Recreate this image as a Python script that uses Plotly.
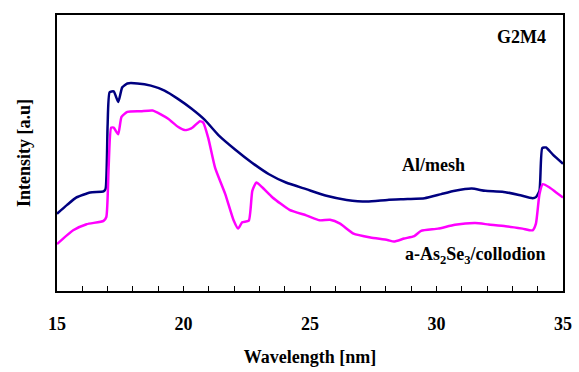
import plotly.graph_objects as go

# Al/mesh (navy)
al_x = [15.0, 15.4, 15.77, 16.31, 16.84, 16.92, 17.0, 17.08, 17.24, 17.42, 17.58, 17.78, 18.18, 18.71, 19.25,
        19.78, 20.31, 20.85, 21.38, 22.05, 22.72, 23.38, 24.05, 24.85, 25.65, 26.45, 27.26, 28.06,
        28.86, 29.53, 30.19, 30.73, 31.39, 31.93, 32.6, 33.26, 33.8, 33.93, 34.07, 34.18, 34.33,
        34.6, 35.0]
al_y = [0.280, 0.312, 0.339, 0.357, 0.361, 0.370, 0.600, 0.720, 0.723, 0.685, 0.738, 0.752, 0.752, 0.744, 0.726,
        0.696, 0.661, 0.619, 0.565, 0.512, 0.464, 0.423, 0.393, 0.369, 0.345, 0.330, 0.324, 0.330,
        0.333, 0.336, 0.351, 0.363, 0.371, 0.363, 0.360, 0.348, 0.336, 0.340, 0.363, 0.518, 0.520,
        0.494, 0.461]

# a-As2Se3/collodion (magenta)
as_x = [15.0, 15.64, 16.17, 16.84, 16.95, 17.04, 17.14, 17.24, 17.42, 17.55, 17.78, 18.31, 18.78, 19.38,
        19.78, 20.05, 20.31, 20.65, 20.78, 20.98, 21.25, 21.65, 21.98, 22.16, 22.32, 22.58, 22.72,
        22.88, 23.12, 23.52, 24.19, 24.85, 25.39, 25.79, 26.19, 26.72, 27.39, 28.06, 28.32, 28.72,
        29.12, 29.39, 30.06, 30.73, 31.53, 32.06, 32.73, 33.4, 33.8, 33.93, 34.07, 34.2, 34.47,
        34.73, 35.0]
as_y = [0.170, 0.220, 0.242, 0.254, 0.268, 0.446, 0.592, 0.592, 0.568, 0.631, 0.649, 0.651, 0.654, 0.625,
        0.595, 0.583, 0.589, 0.615, 0.610, 0.554, 0.446, 0.351, 0.256, 0.226, 0.249, 0.255, 0.363,
        0.393, 0.375, 0.339, 0.294, 0.274, 0.256, 0.258, 0.244, 0.208, 0.194, 0.185, 0.179, 0.190,
        0.199, 0.218, 0.226, 0.240, 0.246, 0.241, 0.235, 0.226, 0.220, 0.244, 0.351, 0.387, 0.375,
        0.357, 0.339]

tick_vals = [15, 20, 25, 30, 35]
tick_text = ["15", "20", "25", "30", "35"]

font_fam = "Liberation Serif"

fig = go.Figure()
fig.add_trace(go.Scatter(x=al_x, y=al_y, mode="lines",
                         line=dict(color="#000080", width=2.5, shape="spline", smoothing=0.5),
                         name="Al/mesh", showlegend=False))
fig.add_trace(go.Scatter(x=as_x, y=as_y, mode="lines",
                         line=dict(color="#FF00FF", width=2.5, shape="spline", smoothing=0.5),
                         name="a-As2Se3/collodion", showlegend=False))

fig.add_annotation(x=33.34, y=0.920, xref="x", yref="y", text="<b>G2M4</b>", showarrow=False,
                   font=dict(family=font_fam, size=18, color="black"))
fig.add_annotation(x=29.9, y=0.457, xref="x", yref="y", text="<b>Al/mesh</b>", showarrow=False,
                   font=dict(family=font_fam, size=18, color="black"))
fig.add_annotation(x=31.56, y=0.130, xref="x", yref="y",
                   text="<b>a-As<sub>2</sub>Se<sub>3</sub>/collodion</b>", showarrow=False,
                   font=dict(family=font_fam, size=18, color="black"))

fig.update_layout(
    width=579, height=372,
    margin=dict(l=57, r=16, t=15, b=81),
    paper_bgcolor="white", plot_bgcolor="white",
    font=dict(family=font_fam, color="black"),
    xaxis=dict(range=[15, 35], tickvals=tick_vals, ticktext=tick_text, automargin=False,
               ticks="inside", ticklen=5, tickwidth=1.2, tickcolor="black",
               minor=dict(ticks="inside", dtick=1, ticklen=5, tickwidth=1.2, tickcolor="black"),
               showline=True, linecolor="black", linewidth=2, mirror=True,
               showgrid=False, zeroline=False,
               tickfont=dict(family=font_fam, size=18, color="black", weight="bold"),
               ticklabelstandoff=15,
               title=dict(text="<b>Wavelength [nm]</b>", font=dict(family=font_fam, size=18), standoff=18)),
    yaxis=dict(range=[0, 1], showticklabels=False, ticks="", automargin=False,
               showline=True, linecolor="black", linewidth=2, mirror=True,
               showgrid=False, zeroline=False,
               title=dict(text="<b>Intensity [a.u]</b>", font=dict(family=font_fam, size=18), standoff=20)),
)

fig.write_html("out.html")
